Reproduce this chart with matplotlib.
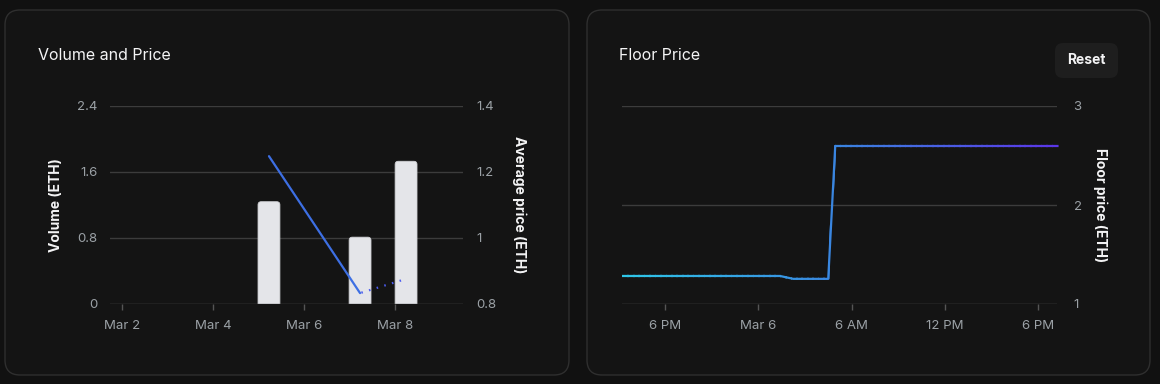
"""Dark dashboard panels: volume/price bars and floor price line."""
import matplotlib

matplotlib.use("Agg")
import matplotlib.pyplot as plt
from matplotlib.colors import LinearSegmentedColormap
from matplotlib.patches import FancyBboxPatch, Rectangle
from matplotlib.transforms import IdentityTransform

# Volume and Price (x = day of March)
vol_days = [5.23, 7.23, 8.24]
volume = [1.24, 0.81, 1.73]
price_days = [5.23, 7.23, 8.24]
avg_price = [1.248, 0.833, 0.876]
day_ticks = [2, 4, 6, 8]
day_labels = ["Mar 2", "Mar 4", "Mar 6", "Mar 8"]
vol_ticks = [0, 0.8, 1.6, 2.4]
vol_labels = ["0", "0.8", "1.6", "2.4"]
price_ticks = [0.8, 1.0, 1.2, 1.4]
price_labels = ["0.8", "1", "1.2", "1.4"]

# Floor price (x = hours since Mar 5 00:00)
floor_hours = [15.23, 25.4, 26.25, 28.5, 28.95, 43.25]
floor_price = [1.283, 1.283, 1.254, 1.254, 2.596, 2.596]
hour_ticks = [18, 24, 30, 36, 42]
hour_labels = ["6 PM", "Mar 6", "6 AM", "12 PM", "6 PM"]
floor_ticks = [1, 2, 3]
floor_labels = ["1", "2", "3"]

BG = "#111111"
PANEL = "#141414"
GRID = "#3c3c3c"
BASE = "#555555"
TICK = "#9ba1a6"
WHITE = "#f4f4f5"


def style_axes(ax):
    ax.set_facecolor("none")
    for s in ax.spines.values():
        s.set_visible(False)
    ax.tick_params(axis="x", length=4.3, width=1, color=BASE, pad=7,
                   labelcolor=TICK, labelsize=9.5)
    ax.tick_params(axis="y", length=0, labelcolor=TICK, labelsize=9.5)


def main() -> None:
    plt.rcParams["font.family"] = ["Inter", "DejaVu Sans"]
    fig = plt.figure(figsize=(11.6, 3.84), dpi=100, facecolor=BG)

    # panel cards (pixel coordinates, origin bottom-left)
    for x0, x1 in [(5, 569), (587, 1150)]:
        fig.patches.append(FancyBboxPatch(
            (x0, 9), x1 - x0, 365, boxstyle="round,pad=0,rounding_size=15",
            transform=IdentityTransform(), fc=PANEL, ec="#2f2f2f", lw=1,
            zorder=-10))
    fig.patches.append(FancyBboxPatch(
        (1055, 306), 63, 35, boxstyle="round,pad=0,rounding_size=8",
        transform=IdentityTransform(), fc="#1e1e1e", ec="none", zorder=-5))
    fig.text(1086 / 1160, 1 - 60.5 / 384, "Reset", color=WHITE, fontsize=10,
             fontweight="bold", ha="center", va="center")
    fig.text(38 / 1160, 1 - 55 / 384, "Volume and Price", color=WHITE,
             fontsize=11.5, ha="left", va="center")
    fig.text(619 / 1160, 1 - 55 / 384, "Floor Price", color=WHITE,
             fontsize=11.5, ha="left", va="center")

    # ---- Volume and Price ----
    ax = fig.add_axes([110 / 1160, 80 / 384, 353 / 1160, 198 / 384])
    style_axes(ax)
    ax.set_xlim(1.74, 9.49)
    ax.set_ylim(0, 2.4)
    ax.set_xticks(day_ticks, day_labels)
    ax.set_yticks(vol_ticks, vol_labels)
    ax.tick_params(axis="y", pad=9)
    for v in vol_ticks[1:]:
        ax.axhline(v, color=GRID, lw=1, zorder=0.5)
    ax.axhline(0, color=BASE, lw=1, zorder=3)
    bw = 0.48
    for x, h in zip(vol_days, volume):
        ax.add_patch(FancyBboxPatch(
            (x - bw / 2, -0.1), bw, h + 0.1,
            boxstyle="round,pad=0,rounding_size=0.07", mutation_aspect=0.55,
            fc="#e4e5e9", ec="#d0d1d5", lw=0.6, zorder=2))
    ax.set_ylabel("Volume (ETH)", color=WHITE, fontsize=10, fontweight="bold",
                  va="center", ha="center")
    ax.yaxis.set_label_coords(-0.153, 0.5)

    ax2 = ax.twinx()
    style_axes(ax2)
    ax2.set_ylim(0.8, 1.4)
    ax2.set_yticks(price_ticks, price_labels)
    ax2.tick_params(axis="y", pad=9.5)
    ax2.plot(price_days[:2], avg_price[:2], color="#3d6fe3", lw=1.6,
             solid_capstyle="round")
    ax2.plot(price_days[1:], avg_price[1:], color="#4c5cf0", lw=1.6,
             ls=(3, (0.7, 2.9)))
    ax2.set_ylabel("Average price (ETH)", color=WHITE, fontsize=10,
                   fontweight="bold", rotation=270, va="center", ha="center")
    ax2.yaxis.set_label_coords(1.158, 0.5)

    # ---- Floor Price ----
    bx = fig.add_axes([622 / 1160, 80 / 384, 435 / 1160, 198 / 384])
    style_axes(bx)
    bx.set_xlim(15.23, 43.22)
    bx.set_ylim(1, 3)
    bx.set_xticks(hour_ticks, hour_labels)
    bx.yaxis.tick_right()
    bx.set_yticks(floor_ticks, floor_labels)
    bx.tick_params(axis="y", pad=12)
    for v in floor_ticks[1:]:
        bx.axhline(v, color=GRID, lw=1, zorder=0.5)
    bx.axhline(1, color=BASE, lw=1, zorder=3)

    cmap = LinearSegmentedColormap.from_list(
        "floor", ["#2ec6e8", "#3a84e0", "#5a36e8"])
    n = 80
    for i in range(n):
        ln, = bx.plot(floor_hours, floor_price, color=cmap(i / (n - 1)),
                      lw=1.6, solid_joinstyle="round", zorder=2)
        ln.set_clip_path(Rectangle((i / n, -0.1), 1 / n + 0.004, 1.2,
                                   transform=bx.transAxes))
    bx.yaxis.set_label_position("right")
    bx.set_ylabel("Floor price (ETH)", color=WHITE, fontsize=10,
                  fontweight="bold", rotation=270, va="center", ha="center")
    bx.yaxis.set_label_coords(1.099, 0.5)

    fig.savefig("out.png", dpi=100, facecolor=BG)
    plt.close(fig)


if __name__ == "__main__":
    main()
